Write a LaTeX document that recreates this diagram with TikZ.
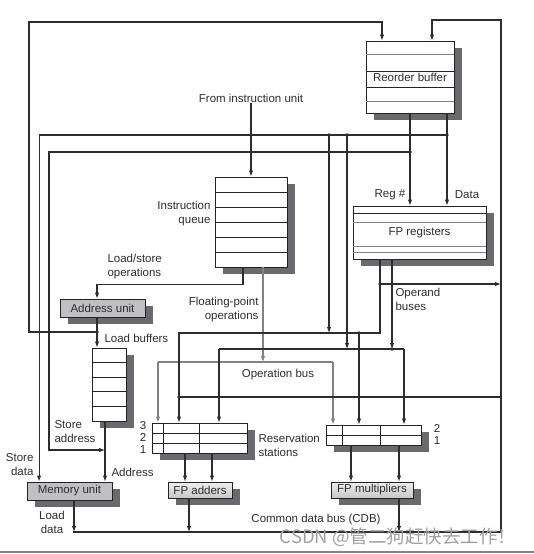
\documentclass[tikz,border=0pt]{standalone}
\usepackage{fontspec}
\setmainfont{Liberation Sans}
\newfontfamily\cjkfont{Noto Sans CJK SC}
\usepackage{tikz}
\usetikzlibrary{shapes,positioning,arrows.meta,shadows}

\begin{document}
\begin{tikzpicture}[x=1pt, y=-1pt, line width=1.05pt,
    every node/.style={font=\fontsize{11.5}{14}\selectfont, inner sep=0pt},
    >={Latex[length=6pt,width=4.5pt]},
    caja/.style={draw=borde, line width=0.9pt, fill=white,
        drop shadow={shadow xshift=8pt, shadow yshift=-7pt, fill=sombra, opacity=1}},
    unidad/.style={caja, fill=unidadgris},
    fu/.style={caja, top color=fuclaro, bottom color=fuoscuro},
    filagris/.style={draw=gris, line width=0.8pt},
    fila/.style={draw=borde, line width=0.8pt},
    opbus/.style={draw=gris, line width=1.05pt}]
    % Colores
    \definecolor{trazo}{RGB}{45,45,47}
    \definecolor{borde}{RGB}{35,35,37}
    \definecolor{sombra}{RGB}{105,105,110}
    \definecolor{gris}{RGB}{130,130,133}
    \definecolor{unidadgris}{RGB}{192,192,194}
    \definecolor{fuclaro}{RGB}{238,238,238}
    \definecolor{fuoscuro}{RGB}{200,200,202}
    \definecolor{marca}{RGB}{160,160,160}
    \color{trazo}

    \useasboundingbox (0,0) rectangle (534,554);

    % Cajas
    \node[caja, minimum width=88pt, minimum height=72pt] (rob) at (410,77) {Reorder buffer};
    \node[caja, minimum width=72pt, minimum height=90pt] (iq) at (251,222) {};
    \node[caja, minimum width=133pt, minimum height=53pt] (fpr) at (419.5,232.5) {FP registers};
    \node[unidad, minimum width=85pt, minimum height=18pt] (au) at (102.5,308) {Address unit};
    \node[caja, minimum width=34pt, minimum height=73pt] (lb) at (109,384.5) {};
    \node[unidad, minimum width=85pt, minimum height=18pt] (mu) at (69.5,491) {Memory unit};
    \node[caja, minimum width=95pt, minimum height=30pt] (rsa) at (199.5,438) {};
    \node[caja, minimum width=95pt, minimum height=20pt] (rsm) at (373.5,435) {};
    \node[fu, minimum width=64pt, minimum height=16pt] (fpa) at (200,490) {FP adders};
    \node[fu, minimum width=82pt, minimum height=16pt] (fpm) at (372,490) {FP multipliers};

    % Filas
    \draw[filagris] (366,54) -- (454,54);
    \draw[filagris] (366,101) -- (454,101);
    \foreach \y in {71,87}
        \draw[fila] (366,\y) -- (454,\y);
    \foreach \y in {192,207,222,237,252}
        \draw[fila] (215,\y) -- (287,\y);
    \draw[fila] (353,213) -- (486,213);
    \foreach \y in {222,246,252}
        \draw[filagris] (353,\y) -- (486,\y);
    \foreach \y in {362.6,377.2,391.8,406.4}
        \draw[fila] (92,\y) -- (126,\y);
    \foreach \y in {433,443}
        \draw[fila] (152,\y) -- (247,\y);
    \foreach \x in {163,199}
        \draw[fila] (\x,423) -- (\x,453);
    \draw[fila] (326,435) -- (421,435);
    \foreach \x in {342,380}
        \draw[fila] (\x,425) -- (\x,445);

    % Puntos de union
    \coordinate (jlb) at (97,332);
    \coordinate (jdata) at (447,135);
    \coordinate (jreg) at (410,152);
    \coordinate (jr1) at (329,135);
    \coordinate (jr2) at (347,135);
    \coordinate (jst) at (105,450);
    \coordinate (opI) at (263,362);
    \coordinate (opA) at (158,362);
    \coordinate (opM) at (333,362);
    \coordinate (bR1) at (380,333);
    \coordinate (bA) at (179,333);
    \coordinate (bM) at (359,333);
    \coordinate (bR2) at (392,349);
    \coordinate (cA) at (219,349);
    \coordinate (cM) at (404,349);
    \coordinate (opd) at (380,284);
    \coordinate (cdbA) at (179,397);
    \coordinate (cdbR) at (501,397);
    \coordinate (cdbini) at (73,532);
    \coordinate (cdbfin) at (501,532);

    % Entradas al reorder buffer
    \draw[->] (jlb) -| (29,22) -| ([xshift=-28pt]rob.north);
    \draw[->] (cdbfin) |- (432,20) -- ([xshift=22pt]rob.north);

    % Salidas del reorder buffer
    \draw[->] (rob.south) -- (rob.south |- fpr.north);
    \draw[->] ([xshift=37pt]rob.south) -- ([xshift=37pt]rob.south |- fpr.north);
    \draw[->] (jdata) -| ([xshift=12.5pt]mu.north west);
    \draw[->] (jreg) -| (49,450) -- (jst);
    \draw[->] (jr1) -- (jr1 |- bA);
    \draw[->] (jr2) -- (jr2 |- cA);

    % Cola de instrucciones
    \node (desde) at (251,98) {From instruction unit};
    \draw[->] (desde) -- (iq);
    \draw[->] ([xshift=-8pt]iq.south) -- ++(0,17) -| ([xshift=-5.5pt]au.north);
    \draw[->] ([xshift=-5.5pt]au.south) -- ([xshift=-12pt]lb.north);
    \draw[->] ([xshift=-4pt]lb.south) -- ([xshift=35.5pt]mu.north);

    % Bus de operaciones
    \draw[opbus, ->] (iq.south -| opI) -- (opI);
    \draw[opbus] (opA) -- (opM);
    \draw[opbus, ->] (opA) -- (opA |- rsa.north);
    \draw[opbus, ->] (opM) -- (opM |- rsm.north);

    % Buses de operandos
    \draw[->] (bR1 |- fpr.south) -- (bR1) -- (bA) -- (bA |- rsa.north);
    \draw[->] (bM) -- (bM |- rsm.north);
    \draw[->] (bR2 |- fpr.south) -- (bR2);
    \draw (cA) -- (cM);
    \draw[->] (cA) -- (cA |- rsa.north);
    \draw[->] (cM) -- (cM |- rsm.north);
    \draw[->] (opd) -- (opd -| cdbfin);

    % Common data bus
    \draw (cdbA) -- (cdbR);
    \draw (cdbini) -- (cdbfin);

    % Unidades funcionales
    \draw[->] ([xshift=-14.5pt]rsa.south) -- ([xshift=-14.5pt]rsa.south |- fpa.north);
    \draw[->] ([xshift=12.5pt]rsa.south) -- ([xshift=12.5pt]rsa.south |- fpa.north);
    \draw[->] ([xshift=-22.5pt]rsm.south) -- ([xshift=-22.5pt]rsm.south |- fpm.north);
    \draw[->] ([xshift=25.5pt]rsm.south) -- ([xshift=25.5pt]rsm.south |- fpm.north);
    \draw[->] ([xshift=-11pt]fpa.south) -- ([xshift=-11pt]fpa.south |- cdbini);
    \draw[->] ([xshift=27pt]fpm.south) -- ([xshift=27pt]fpm.south |- cdbini);
    \draw[->] ([xshift=4.5pt]mu.south) -- ([xshift=4.5pt]mu.south |- cdbini);

    % Puntos
    \foreach \p in {jlb,jdata,jreg,jr1,jr2,bM,bR2,opd,cdbA}
        \fill (\p) circle (1.8pt);
    \fill (cdbA -| cA) circle (1.8pt);
    \fill (cdbA -| bM) circle (1.8pt);
    \fill (cdbA -| cM) circle (1.8pt);

    % Etiquetas
    \node (lblreg) at (390,195) {Reg \#};
    \node (lbldata) at (467,195) {Data};
    \node[anchor=east, align=right] (lbliq) at (211,214) {Instruction\\queue};
    \node[anchor=west, align=left] (lblls) at (107,267) {Load/store\\operations};
    \node[anchor=east, align=right] (lblfp) at (259,310) {Floating-point\\operations};
    \node[anchor=west] (lbllb) at (104,338) {Load buffers};
    \node[anchor=west, align=left] (lblopd) at (395,299) {Operand\\buses};
    \node (lblop) at (278,375) {Operation bus};
    \node[anchor=west, align=left] (lblsa) at (54,432) {Store\\address};
    \node[anchor=east, align=right] (lblsd) at (34,465) {Store\\data};
    \node[anchor=west] (lbladdr) at (111,472) {Address};
    \node[align=center, font=\fontsize{11.5}{12}\selectfont] (nrsa) at (143,437) {3\\2\\1};
    \node[anchor=west, align=left] (lblrs) at (258,445) {Reservation\\stations};
    \node[align=center, font=\fontsize{11.5}{12}\selectfont] (nrsm) at (437,434) {2\\1};
    \node[align=center] (lblld) at (52,522) {Load\\data};
    \node (lblcdb) at (316,520) {Common data bus (CDB)};

    % Marca de agua
    \node[text=marca, font=\cjkfont\fontsize{18.5}{20}\selectfont] (marca) at (398,537) {CSDN @管二狗赶快去工作！};
    \draw[gris, line width=1.5pt] (0,552) -- (534,552);
\end{tikzpicture}
\end{document}
